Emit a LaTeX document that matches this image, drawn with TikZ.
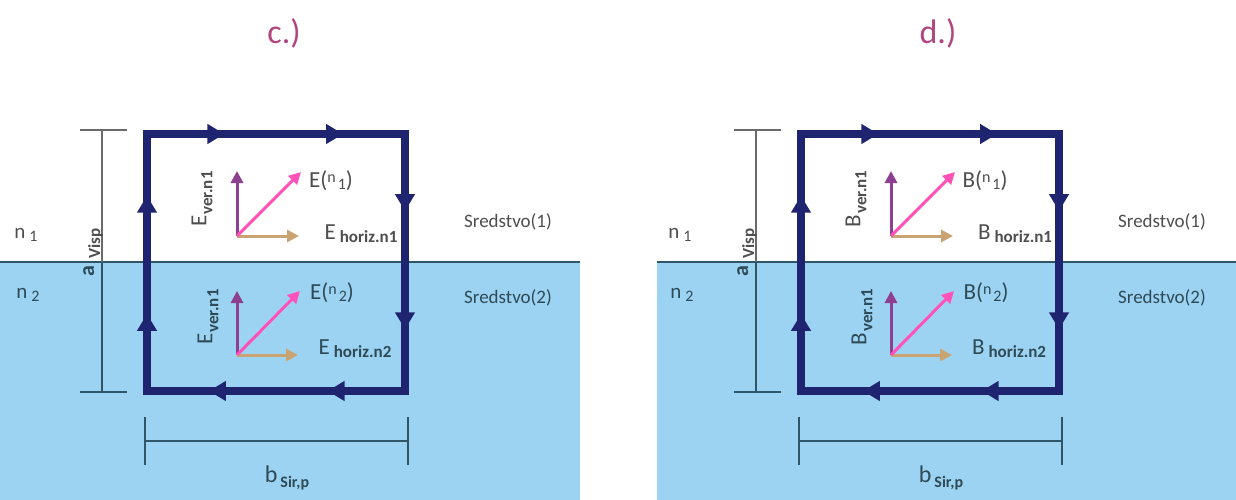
\documentclass[tikz,border=0pt]{standalone}
\usepackage{fontspec}
\setmainfont{Carlito}
\usetikzlibrary{arrows.meta,decorations.markings}
\definecolor{water}{HTML}{9DD3F2}
\definecolor{loopc}{HTML}{1F2470}
\definecolor{bound}{HTML}{2F5666}
\definecolor{dimg}{HTML}{6A6A6A}
\definecolor{dimb}{HTML}{2F5566}
\definecolor{vertc}{HTML}{8E3F91}
\definecolor{horzc}{HTML}{C9A472}
\definecolor{diagc}{HTML}{FF52B8}
\definecolor{titlec}{HTML}{B0457F}
\definecolor{txtg}{HTML}{4E4E4E}
\definecolor{txtb}{HTML}{2D4A56}
\tikzset{
  loopside/.style={draw=loopc, line width=8pt, line cap=rect, postaction={decorate},
    decoration={markings,
      mark=at position 0.30 with {\arrow[loopc]{Triangle[length=17pt,width=19pt]}},
      mark=at position 0.76 with {\arrow[loopc]{Triangle[length=17pt,width=19pt]}}}},
  vec/.style={line width=3pt, -{Triangle[length=12pt,width=12pt]}},
  dimline/.style={line width=1.6pt},
  lbl/.style={inner sep=0pt, font=\fontsize{23}{23}\selectfont},
  sred/.style={inner sep=0pt, font=\fontsize{19}{19}\selectfont},
  nlab/.style={inner sep=0pt, font=\fontsize{21}{21}\selectfont},
  ttl/.style={inner sep=0pt, text=titlec, font=\fontsize{34}{34}\selectfont}
}
% main, sub, sub size, lowering, gap
\newcommand\mysub[5]{#1\hspace{#5}\raisebox{-#4}{\fontsize{#3}{#3}\selectfont\bfseries #2}}
\newcommand\myfield[2]{#1(\raisebox{5pt}{\fontsize{16}{16}\selectfont n}\hspace{2pt}\raisebox{-2pt}{\fontsize{16}{16}\selectfont #2})}
\newcommand\mypanel[3]{%
  % loop
  \coordinate (#1A) at (147,134);
  \coordinate (#1B) at (405,134);
  \coordinate (#1C) at (405,391);
  \coordinate (#1D) at (147,391);
  \draw[loopside] (#1A) -- (#1B);
  \draw[loopside] (#1B) -- (#1C);
  \draw[loopside] (#1C) -- (#1D);
  \draw[loopside] (#1D) -- (#1A);
  % vertical dimension
  \coordinate (#1v1) at (102,130);
  \coordinate (#1vm) at (102,262);
  \coordinate (#1v2) at (102,392);
  \draw[dimline, dimg] (#1v1) -- (#1vm);
  \draw[dimline, dimb] (#1vm) -- (#1v2);
  \draw[dimline, dimg] (80,130) -- (127,130);
  \draw[dimline, dimb] (80,392) -- (127,392);
  \node[inner sep=0pt, rotate=90, text=txtg, font=\fontsize{22}{22}\selectfont, anchor=base west] (#1alab) at (94,277) {\mysub{\textcolor{txtb}{\bfseries a}}{Visp}{17}{6pt}{7pt}};
  % horizontal dimension
  \coordinate (#1h1) at (145,441);
  \coordinate (#1h2) at (408,441);
  \draw[dimline, dimb] (#1h1) -- (#1h2);
  \draw[dimline, dimb] (145,417) -- (145,465);
  \draw[dimline, dimb] (408,417) -- (408,465);
  \node[inner sep=0pt, text=txtb, font=\fontsize{24}{24}\selectfont] (#1blab) at (287,478) {\mysub{b}{Sir,p}{16}{5pt}{3pt}};
  % vectors upper
  \coordinate (#1o1) at (237,236);
  \coordinate (#1u1) at (237,171);
  \coordinate (#1r1) at (299,236);
  \coordinate (#1d1) at (301,172);
  \draw[vec, horzc] (#1o1) -- (#1r1);
  \draw[vec, vertc] (#1o1) -- (#1u1);
  \draw[vec, diagc] (#1o1) -- (#1d1);
  % vectors lower
  \coordinate (#1o2) at (237,355);
  \coordinate (#1u2) at (237,291);
  \coordinate (#1r2) at (298,355);
  \coordinate (#1d2) at (300,291);
  \draw[vec, horzc] (#1o2) -- (#1r2);
  \draw[vec, vertc] (#1o2) -- (#1u2);
  \draw[vec, diagc] (#1o2) -- (#1d2);
  % labels
  \node[lbl, text=txtg] (#1f1) at (331,181) {\myfield{#2}{1}};
  \node[lbl, text=txtb] (#1f2) at (332,293) {\myfield{#2}{2}};
  \node[lbl, text=txtg] (#1hz1) at (361,234) {\mysub{#2}{horiz.n1}{17}{3pt}{4pt}};
  \node[lbl, text=txtb] (#1hz2) at (355,349) {\mysub{#2}{horiz.n2}{17}{3pt}{4pt}};
  \node[lbl, text=txtg, rotate=90] (#1vr1) at (202,199) {\mysub{#2}{ver.n1}{17}{6pt}{1pt}};
  \node[lbl, text=txtb, rotate=90] (#1vr2) at (208,317) {\mysub{#2}{ver.n1}{17}{6pt}{1pt}};
  \node[nlab, text=txtg] (#1n1) at (26,235) {n\hspace{4pt}\raisebox{-3pt}{\fontsize{16}{16}\selectfont 1}};
  \node[nlab, text=txtb] (#1n2) at (28,295) {n\hspace{4pt}\raisebox{-3pt}{\fontsize{16}{16}\selectfont 2}};
  \node[sred, text=txtg] (#1s1) at (508,222) {Sredstvo(1)};
  \node[sred, text=txtb] (#1s2) at (508,298) {Sredstvo(2)};
  \node[ttl] (#1title) at (284,33) {#3};
}
\begin{document}
\begin{tikzpicture}[x=1pt,y=-1pt]
\useasboundingbox (0,0) rectangle (1236,500);
\fill[white] (0,0) rectangle (1236,500);
% water regions
\fill[water] (0,262) rectangle (580,500);
\fill[water] (657,262) rectangle (1236,500);
\draw[bound, line width=1.8pt] (0,262) -- (580,262);
\draw[bound, line width=1.8pt] (657,262) -- (1236,262);
\mypanel{c}{E}{c.)}
\begin{scope}[xshift=654pt]
\mypanel{d}{B}{d.)}
\end{scope}
\end{tikzpicture}
\end{document}
